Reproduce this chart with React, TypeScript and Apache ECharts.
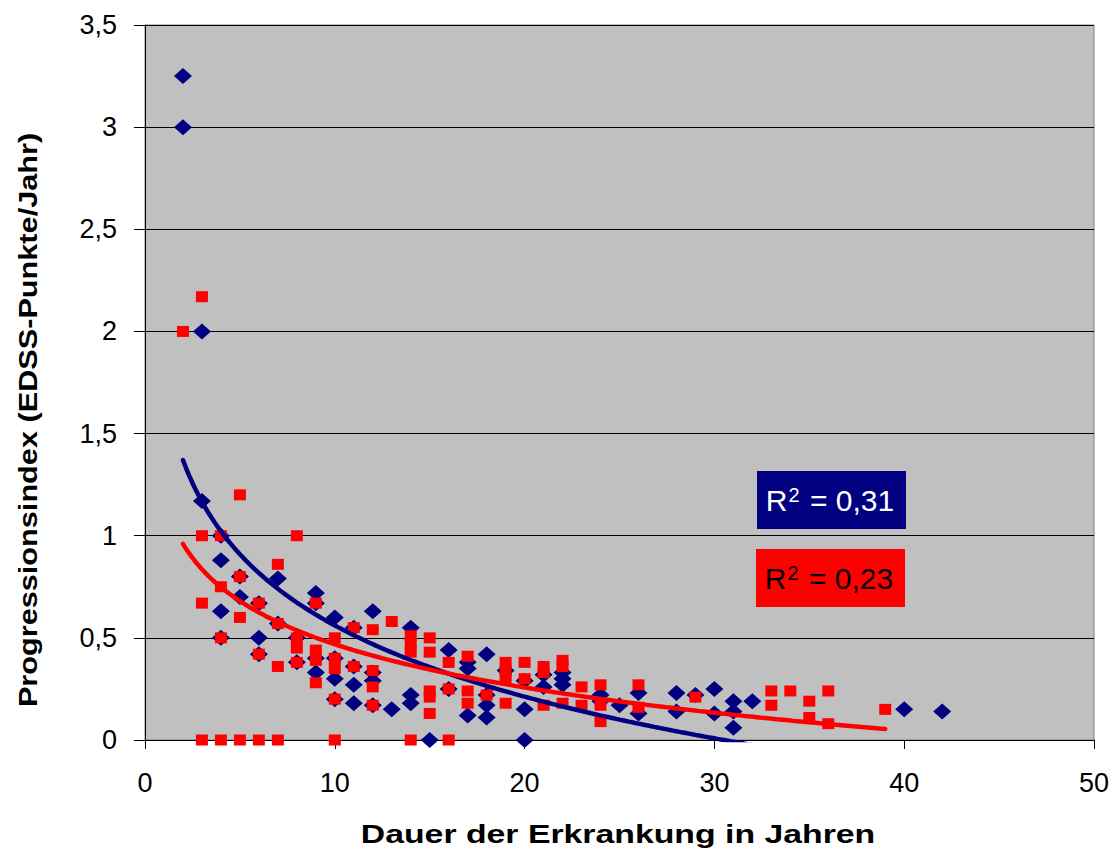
import React, { useEffect, useRef } from "react";
import * as echarts from "echarts";

// Blue diamonds (series 1)
const blueData: [number, number][] = [
  [2, 3.25], [2, 3.0],
  [3, 2.0], [3, 1.17],
  [4, 1.0], [4, 0.88], [4, 0.63], [4, 0.5],
  [5, 0.8], [5, 0.7],
  [6, 0.67], [6, 0.5], [6, 0.42],
  [7, 0.79], [7, 0.57],
  [8, 0.5], [8, 0.38],
  [9, 0.72], [9, 0.67], [9, 0.4], [9, 0.33],
  [10, 0.6], [10, 0.4], [10, 0.3], [10, 0.2],
  [11, 0.55], [11, 0.36], [11, 0.27], [11, 0.18],
  [12, 0.63], [12, 0.33], [12, 0.29], [12, 0.17],
  [13, 0.15],
  [14, 0.55], [14, 0.22], [14, 0.18],
  [15, 0],
  [16, 0.44], [16, 0.25],
  [17, 0.38], [17, 0.35], [17, 0.12],
  [18, 0.42], [18, 0.22], [18, 0.17], [18, 0.11],
  [19, 0.34],
  [20, 0.29], [20, 0.15], [20, 0],
  [21, 0.32], [21, 0.26],
  [22, 0.33], [22, 0.3], [22, 0.27],
  [24, 0.22], [24, 0.19],
  [25, 0.17],
  [26, 0.23], [26, 0.13],
  [28, 0.23], [28, 0.14],
  [29, 0.22],
  [30, 0.25], [30, 0.13],
  [31, 0.19], [31, 0.14], [31, 0.06],
  [32, 0.19],
  [40, 0.15],
  [42, 0.14],
];

// Red squares (series 2)
const redData: [number, number][] = [
  [2, 2.0],
  [3, 2.17], [3, 1.0], [3, 0.67], [3, 0],
  [4, 1.0], [4, 0.75], [4, 0.5], [4, 0],
  [5, 1.2], [5, 0.8], [5, 0.6], [5, 0],
  [6, 0.67], [6, 0.42], [6, 0],
  [7, 0.86], [7, 0.57], [7, 0.36], [7, 0],
  [8, 1.0], [8, 0.5], [8, 0.45], [8, 0.38],
  [9, 0.67], [9, 0.44], [9, 0.39], [9, 0.28],
  [10, 0.5], [10, 0.4], [10, 0.35], [10, 0.2], [10, 0],
  [11, 0.55], [11, 0.36],
  [12, 0.54], [12, 0.34], [12, 0.26], [12, 0.17],
  [13, 0.58],
  [14, 0.51], [14, 0.47], [14, 0.43], [14, 0],
  [15, 0.5], [15, 0.43], [15, 0.24], [15, 0.21], [15, 0.13],
  [16, 0.38], [16, 0.25], [16, 0],
  [17, 0.41], [17, 0.24], [17, 0.18],
  [18, 0.22],
  [19, 0.38], [19, 0.34], [19, 0.3], [19, 0.18],
  [20, 0.38], [20, 0.3],
  [21, 0.36], [21, 0.33], [21, 0.17],
  [22, 0.39], [22, 0.36], [22, 0.18],
  [23, 0.26], [23, 0.17],
  [24, 0.27], [24, 0.17], [24, 0.09],
  [26, 0.27], [26, 0.16],
  [29, 0.21],
  [33, 0.24], [33, 0.17],
  [34, 0.24],
  [35, 0.19], [35, 0.11],
  [36, 0.24], [36, 0.08],
  [39, 0.15],
];

// Logarithmic trend lines y = a + b·ln(x), coefficients
const blueTrend = { a: 1.719, b: -0.503 };
const redTrend = { a: 1.171, b: -0.305 };

const blueR2 = "0,31";
const redR2 = "0,23";
const xTitle = "Dauer der Erkrankung in Jahren";
const yTitle = "Progressionsindex (EDSS-Punkte/Jahr)";

const FONT = '"Liberation Sans", Arial, Helvetica, sans-serif';
const NAVY = "#000080";
const RED = "#FF0000";

function trendCurve(data: [number, number][], t: { a: number; b: number }): [number, number][] {
  const xs = data.map((d) => d[0]);
  const lo = Math.min(...xs), hi = Math.max(...xs);
  const pts: [number, number][] = [];
  const steps = 240;
  for (let i = 0; i <= steps; i++) {
    const x = lo + ((hi - lo) * i) / steps;
    pts.push([x, t.a + t.b * Math.log(x)]);
  }
  return pts;
}

export default function App() {
  const ref = useRef<HTMLDivElement>(null);
  useEffect(() => {
    if (!ref.current) return;
    const chart = echarts.init(ref.current, undefined, { renderer: "svg" });
    const r2Text = (val: string) => `{n|R}{s|2}{n| = ${val}}`;
    chart.setOption({
      animation: false,
      backgroundColor: "#FFFFFF",
      grid: {
        left: 145,
        right: 23,
        top: 25,
        bottom: 111,
        show: true,
        backgroundColor: "#C0C0C0",
        borderColor: "#808080",
        borderWidth: 1,
      },
      xAxis: {
        type: "value",
        min: 0,
        max: 50,
        interval: 10,
        axisLine: { show: true, onZero: false, lineStyle: { color: "#000", width: 1 } },
        axisTick: { show: true, inside: false, length: 9, lineStyle: { color: "#000" } },
        axisLabel: { fontSize: 27, color: "#000", fontFamily: FONT, margin: 29 },
        splitLine: { show: false },
      },
      yAxis: {
        type: "value",
        min: 0,
        max: 3.5,
        interval: 0.5,
        axisLine: { show: true, onZero: false, lineStyle: { color: "#000", width: 1 } },
        axisTick: { show: true, inside: false, length: 11, lineStyle: { color: "#000" } },
        axisLabel: {
          fontSize: 27,
          color: "#000",
          fontFamily: FONT,
          margin: 28,
          formatter: (v: number) => String(v).replace(".", ","),
        },
        splitLine: { show: true, lineStyle: { color: "#000", width: 1 } },
      },
      series: [
        {
          type: "scatter",
          data: blueData,
          symbol: "diamond",
          symbolSize: [18, 16],
          itemStyle: { color: NAVY, opacity: 1 },
          clip: false,
          z: 2,
        },
        {
          type: "scatter",
          data: redData,
          symbol: "rect",
          symbolSize: [12, 11],
          itemStyle: { color: RED, opacity: 1 },
          clip: false,
          z: 3,
        },
        {
          type: "line",
          data: trendCurve(blueData, blueTrend),
          showSymbol: false,
          symbol: "none",
          lineStyle: { color: NAVY, width: 4.5, cap: "round" },
          clip: true,
          z: 4,
        },
        {
          type: "line",
          data: trendCurve(redData, redTrend),
          showSymbol: false,
          symbol: "none",
          lineStyle: { color: RED, width: 4.5, cap: "round" },
          clip: true,
          z: 5,
        },
      ],
      graphic: [
        {
          type: "rect",
          shape: { x: 757, y: 471, width: 149, height: 58 },
          style: { fill: NAVY },
          z: 10,
        },
        {
          type: "text",
          x: 830,
          y: 500,
          z: 11,
          style: {
            text: r2Text(blueR2),
            align: "center",
            verticalAlign: "middle",
            fill: "#FFFFFF",
            rich: {
              n: { fontSize: 30, lineHeight: 30, fontFamily: FONT, fill: "#FFFFFF" },
              s: { fontSize: 20, lineHeight: 20, fontFamily: FONT, fill: "#FFFFFF", verticalAlign: "top", padding: [0, 2, 0, 1] },
            },
          },
        },
        {
          type: "rect",
          shape: { x: 756, y: 549, width: 149, height: 58 },
          style: { fill: RED },
          z: 10,
        },
        {
          type: "text",
          x: 829,
          y: 578,
          z: 11,
          style: {
            text: r2Text(redR2),
            align: "center",
            verticalAlign: "middle",
            fill: "#000000",
            rich: {
              n: { fontSize: 30, lineHeight: 30, fontFamily: FONT, fill: "#000000" },
              s: { fontSize: 20, lineHeight: 20, fontFamily: FONT, fill: "#000000", verticalAlign: "top", padding: [0, 2, 0, 1] },
            },
          },
        },
        {
          type: "text",
          x: 618,
          y: 834,
          scaleX: 1.3,
          style: {
            text: xTitle,
            fontSize: 26,
            fontWeight: "bold",
            fontFamily: FONT,
            fill: "#000",
            align: "center",
            verticalAlign: "middle",
          },
        },
        {
          type: "text",
          x: 28,
          y: 420,
          rotation: Math.PI / 2,
          scaleX: 1.18,
          style: {
            text: yTitle,
            fontSize: 26,
            fontWeight: "bold",
            fontFamily: FONT,
            fill: "#000",
            align: "center",
            verticalAlign: "middle",
          },
        },
      ],
    });
    return () => chart.dispose();
  }, []);
  return (
    <div
      ref={ref}
      style={{ position: "absolute", left: 0, top: 0, width: 1117, height: 851 }}
    />
  );
}
